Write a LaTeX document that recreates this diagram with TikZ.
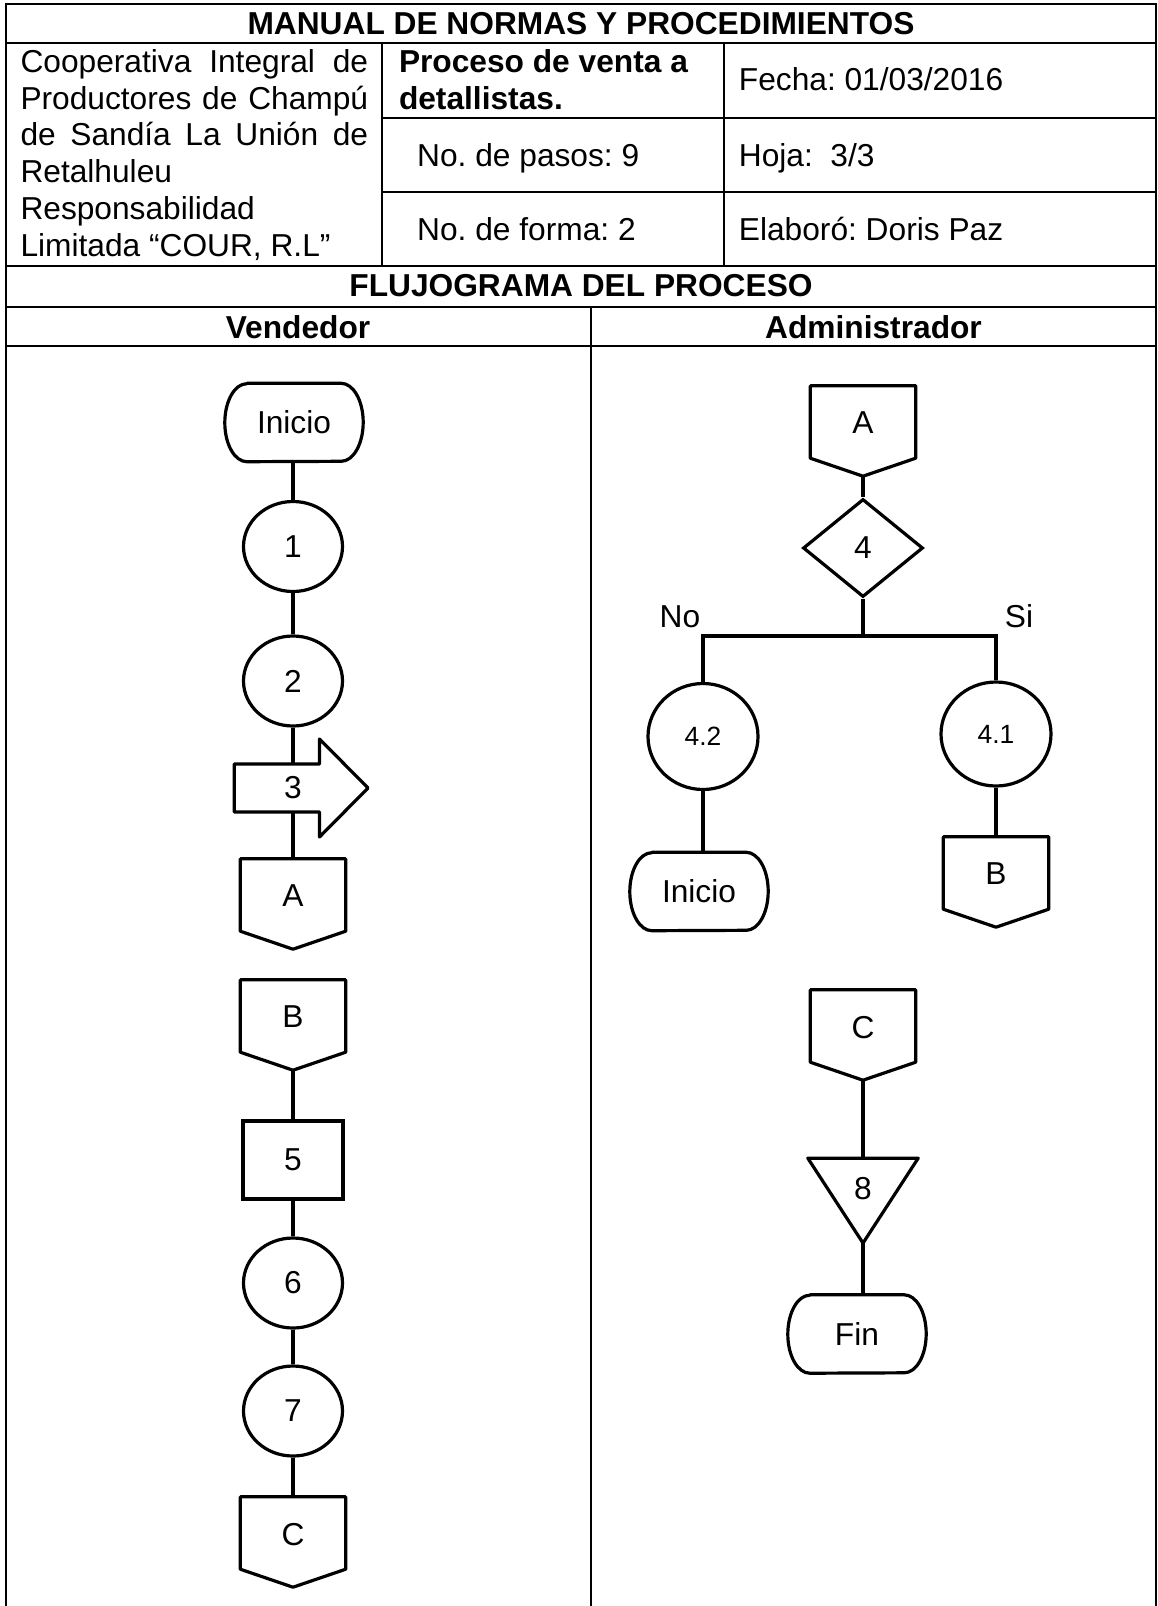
\documentclass[tikz,border=0pt]{standalone}
\usepackage{fontspec}
\setmainfont{Liberation Sans}
\usepackage{tikz}
\usetikzlibrary{shapes.geometric}
\frenchspacing

\newcommand{\normaltext}{\fontsize{31.7pt}{36.7pt}\selectfont}
\newcommand{\smalltext}{\fontsize{26.4pt}{30pt}\selectfont}

\tikzset{
  tableline/.style={line width=2pt},
  shapeline/.style={line width=3.2pt, line join=round},
  flow/.style={draw, line width=4.8pt},
  celltext/.style={inner sep=0pt, font=\normaltext},
  headtext/.style={inner sep=0pt, font=\normaltext\bfseries},
  terminal/.style={minimum width=138pt, minimum height=78pt, inner sep=0pt, font=\normaltext},
  proc/.style={ellipse, draw, line width=3.2pt, minimum width=99pt, minimum height=90pt, inner sep=0pt, font=\normaltext},
  task/.style={rectangle, draw, line width=3.2pt, minimum width=100pt, minimum height=78pt, inner sep=0pt, font=\normaltext},
  decision/.style={diamond, draw, line width=3.2pt, minimum width=120pt, minimum height=98pt, inner sep=0pt, font=\normaltext},
  offpage/.style={minimum width=105pt, minimum height=90pt, inner sep=0pt, text depth=16pt, font=\normaltext},
  transport/.style={minimum width=20pt, minimum height=48pt, inner sep=0pt, font=\normaltext},
  store/.style={minimum width=110pt, minimum height=84.5pt, inner sep=0pt, text depth=24pt, font=\normaltext}
}

\begin{document}
\begin{tikzpicture}[x=1pt, y=-1pt]
  \useasboundingbox (0,0) rectangle (1157,1606);

  % encabezado
  \draw[tableline] (5.5,1620) -- (5.5,4.4) -- (1156,4.4) -- (1156,1620);
  \draw[tableline] (5.5,42.5) -- (1156,42.5);
  \draw[tableline] (382,117.6) -- (1156,117.6);
  \draw[tableline] (382,192.4) -- (1156,192.4);
  \draw[tableline] (5.5,266.4) -- (1156,266.4);
  \draw[tableline] (5.5,307) -- (1156,307);
  \draw[tableline] (5.5,346) -- (1156,346);
  \draw[tableline] (382,42.5) -- (382,266.4);
  \draw[tableline] (724,42.5) -- (724,266.4);
  \draw[tableline] (591,307) -- (591,1620);

  \node[headtext, anchor=base] (title) at (581,34) {MANUAL DE NORMAS Y PROCEDIMIENTOS};
  \foreach \txt [count=\i] in {{Cooperativa\hfill Integral\hfill de}, {Productores\hfill de\hfill Champú},
      {de\hfill Sandía\hfill La\hfill Unión\hfill de}, {Retalhuleu}, {Responsabilidad}, {Limitada “COUR, R.L”}}
    \node[celltext, anchor=base west] (coop\i) at (20.3,35.8+36.7*\i) {\makebox[347.7pt][l]{\txt}};
  \node[headtext, anchor=base west] (proc1) at (398.8,72.5) {Proceso de venta a};
  \node[headtext, anchor=base west] (proc2) at (398.8,109.5) {detallistas.};
  \node[celltext, anchor=base west] (fecha) at (738.7,90.6) {Fecha: 01/03/2016};
  \node[celltext, anchor=base west] (pasos) at (417,166.5) {No. de pasos: 9};
  \node[celltext, anchor=base west] (hoja) at (738.7,166.5) {Hoja: \ 3/3};
  \node[celltext, anchor=base west] (forma) at (417,240.5) {No. de forma: 2};
  \node[celltext, anchor=base west] (elaboro) at (738.7,240.5) {Elaboró: Doris Paz};
  \node[headtext, anchor=base] (flujo) at (581,296) {FLUJOGRAMA DEL PROCESO};
  \node[headtext, anchor=base] (vendedor) at (298,338.5) {Vendedor};
  \node[headtext, anchor=base] (admin) at (873.5,338.5) {Administrador};

  % vendedor
  \node[terminal] (ini1) at (294,422.5) {Inicio};
  \node[proc] (s1) at (293,546.5) {1};
  \node[proc] (s2) at (293,681) {2};
  \node[transport] (s3) at (293,788) {3};
  \node[offpage] (sA) at (293,904) {A};
  \node[offpage] (sB) at (293,1025) {B};
  \node[task] (s5) at (293,1160) {5};
  \node[proc] (s6) at (293,1283) {6};
  \node[proc] (s7) at (293,1411) {7};
  \node[offpage] (sC) at (293,1542) {C};

  % administrador
  \node[offpage] (rA) at (863,431) {A};
  \node[decision] (d4) at (863,548) {4};
  \coordinate (split) at (863,636);
  \node[proc, minimum width=110pt, minimum height=106pt, font=\smalltext] (s42) at (703,736.5) {4.2};
  \node[proc, minimum width=110pt, minimum height=104pt, font=\smalltext] (s41) at (996,734) {4.1};
  \node[terminal] (ini2) at (699,891.5) {Inicio};
  \node[offpage] (rB) at (996,882) {B};
  \node[offpage] (rC) at (863,1035) {C};
  \node[store] (t8) at (863,1200.6) {8};
  \node[terminal] (fin) at (857,1334) {Fin};
  \node[celltext, anchor=base] (no) at (680,627.5) {No};
  \node[celltext, anchor=base] (si) at (1019,627.5) {Si};

  \foreach \n in {ini1,ini2,fin}
    \draw[shapeline] ([xshift=22pt]\n.north west) -- ([xshift=-22pt]\n.north east)
      arc[start angle=90, end angle=-90, x radius=22pt, y radius=39pt]
      -- ([xshift=22pt]\n.south west)
      arc[start angle=270, end angle=90, x radius=22pt, y radius=39pt] -- cycle;
  \foreach \n in {sA,sB,sC,rA,rB,rC}
    \draw[shapeline] (\n.north west) -- (\n.north east) -- ([yshift=18pt]\n.south east)
      -- (\n.south) -- ([yshift=18pt]\n.south west) -- cycle;
  \draw[shapeline, shift={(s3.center)}] (-58.8,-24) -- (26.5,-24) -- (26.5,-49) -- (75,0)
    -- (26.5,49) -- (26.5,24) -- (-58.8,24) -- cycle;
  \draw[shapeline] (t8.north west) -- (t8.north east) -- (t8.south) -- cycle;

  \path[flow]
    (ini1.south -| s1) edge (s1)
    (s1) edge (s2)
    (s2) edge (s3)
    (s3) edge (sA)
    (sB) edge (s5)
    (s5) edge (s6)
    (s6) edge (s7)
    (s7) edge (sC)
    (rA) edge (d4)
    (d4) edge (split)
    (s41) edge (rB)
    (rC) edge (t8)
    ;
  \draw[flow] (split) -| (s42);
  \draw[flow] (split) -| (s41);
  \draw[flow] (s42.south) -- (s42.south |- ini2.north);
  \draw[flow] (t8.south) -- (t8.south |- fin.north);
\end{tikzpicture}
\end{document}
